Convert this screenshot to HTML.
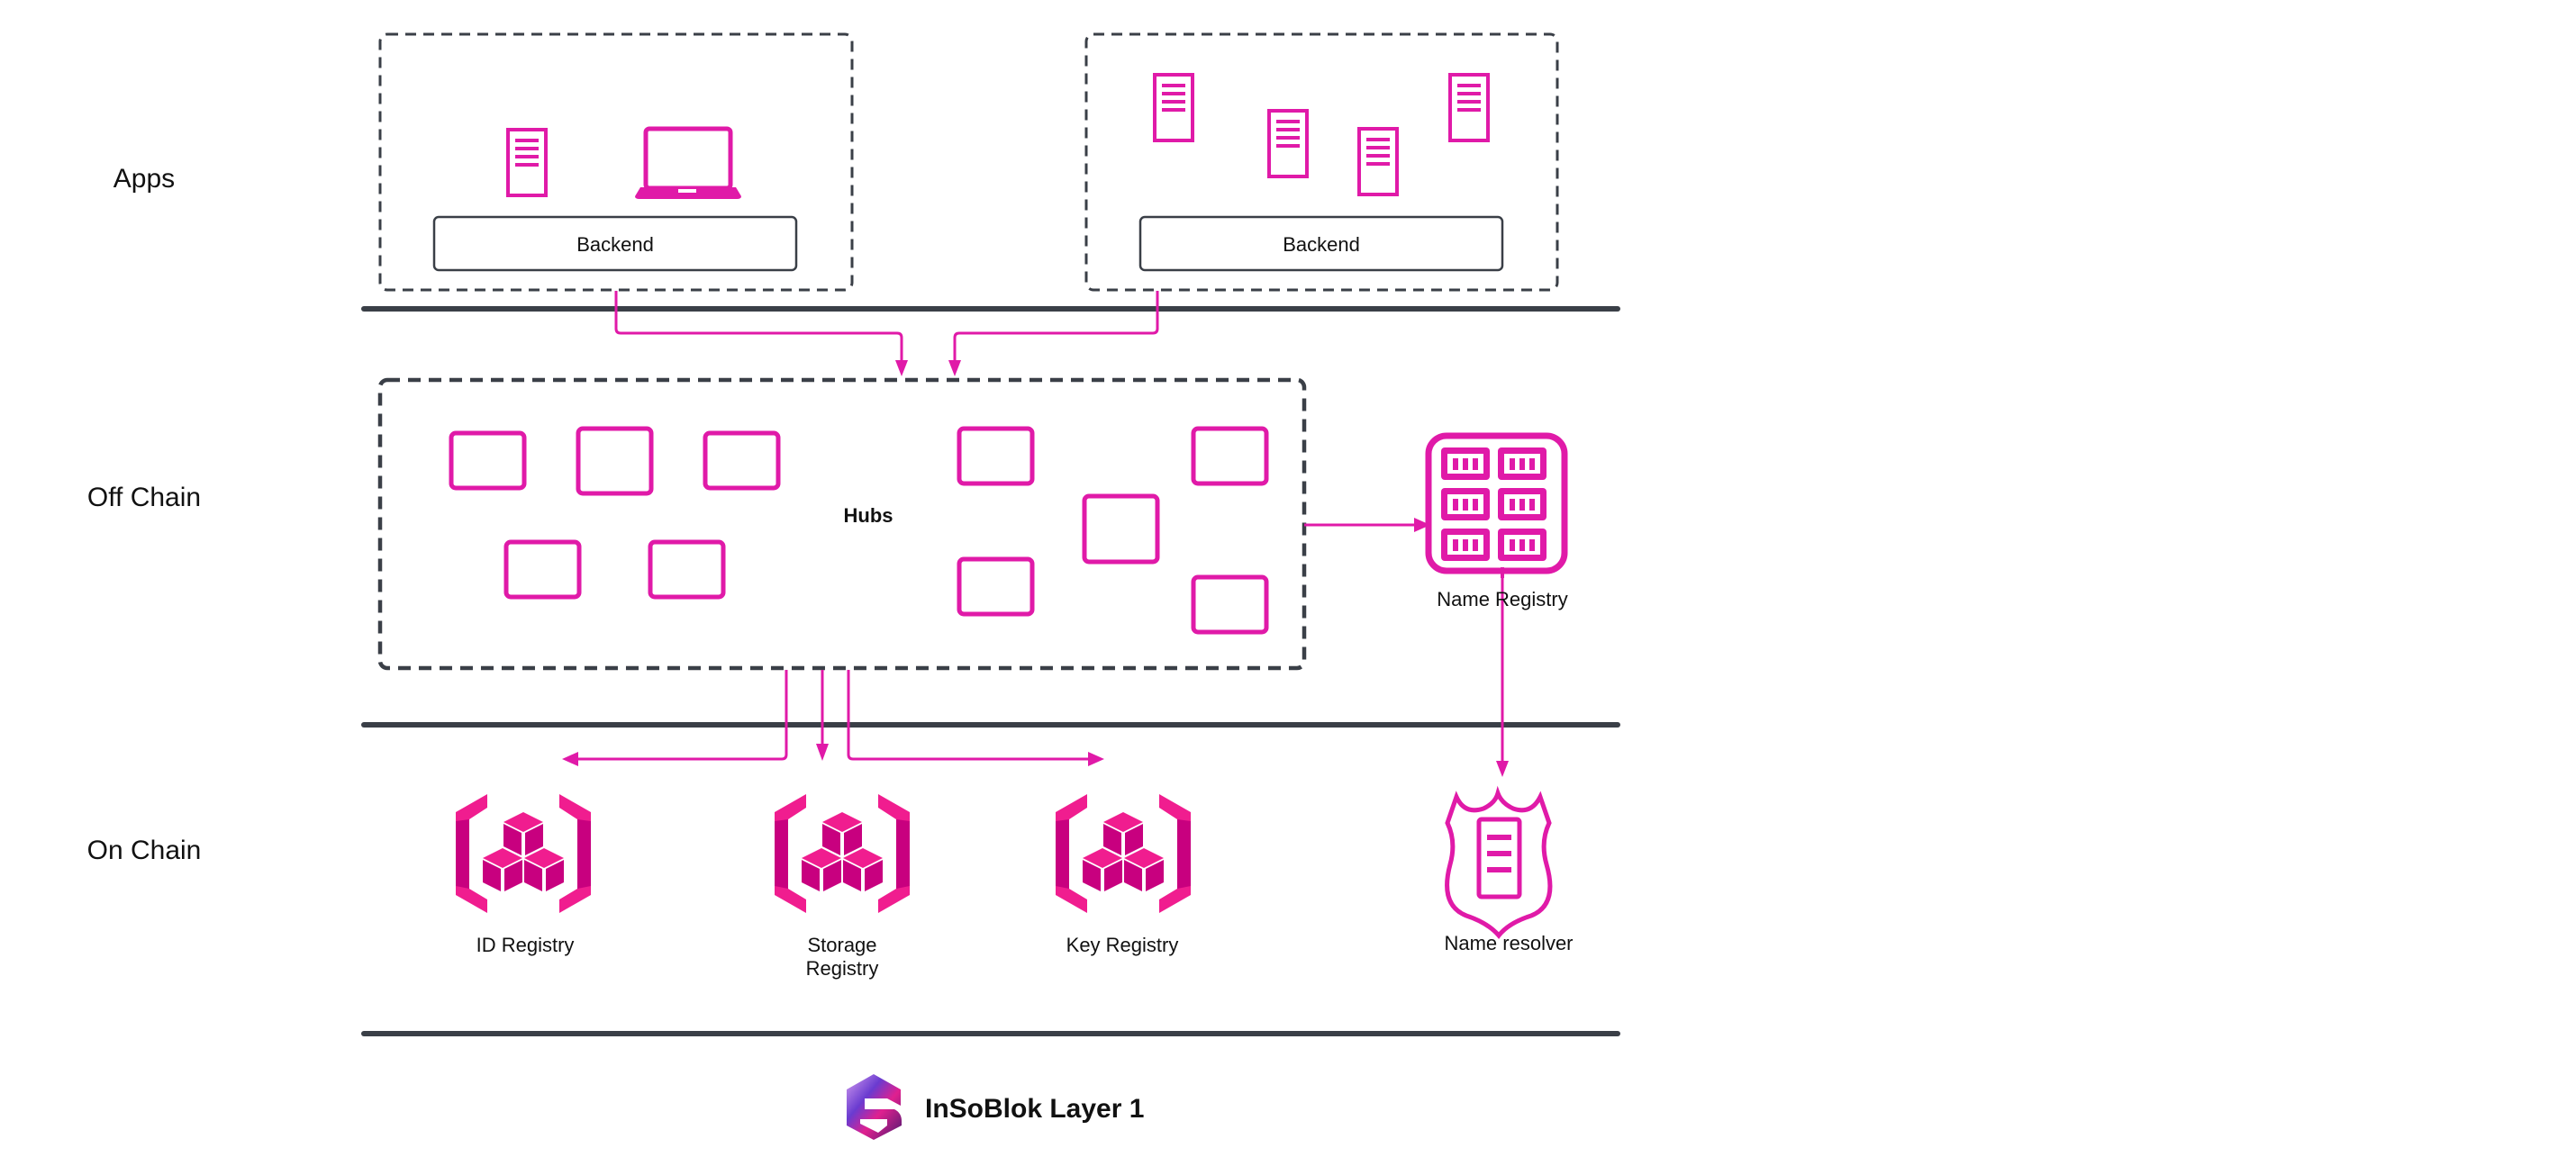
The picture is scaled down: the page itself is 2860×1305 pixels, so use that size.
<!DOCTYPE html>
<html><head><meta charset="utf-8"><style>
html,body{margin:0;padding:0;background:#fff;}
svg{display:block;}
text{font-family:"Liberation Sans",sans-serif;fill:#111;}
</style></head><body>
<svg width="2860" height="1305" viewBox="0 0 2860 1305" xmlns="http://www.w3.org/2000/svg">
<defs>
<marker id="ah" viewBox="0 0 10 10" refX="9" refY="5" markerWidth="6" markerHeight="6" orient="auto-start-reverse" markerUnits="userSpaceOnUse">
</marker>
<g id="cube">
  <polygon points="0,0 22,11 0,22 -22,11" fill="#f01d8f"/>
  <polygon points="-22,13 -2,23 -2,48 -22,38" fill="#c8007f"/>
  <polygon points="22,13 2,23 2,48 22,38" fill="#c8007f"/>
</g>
<g id="reg">
  <polygon points="0,20 35,0 35,15 15,28 15,105 35,117 35,132 0,112" fill="#f01d8f"/>
  <polygon points="0,30 15,28 15,105 0,102" fill="#c8007f"/>
  <polygon points="150,20 115,0 115,15 135,28 135,105 115,117 115,132 150,112" fill="#f01d8f"/>
  <polygon points="150,30 135,28 135,105 150,102" fill="#c8007f"/>
  <use href="#cube" x="75" y="20"/>
  <use href="#cube" x="52" y="60"/>
  <use href="#cube" x="98" y="60"/>
</g>
<g id="srv">
  <rect x="2" y="2" width="42" height="73" fill="none" stroke="#e01aa8" stroke-width="4"/>
  <rect x="10" y="12" width="26" height="4" fill="#e01aa8"/>
  <rect x="10" y="21" width="26" height="4" fill="#e01aa8"/>
  <rect x="10" y="30" width="26" height="4" fill="#e01aa8"/>
  <rect x="10" y="39" width="26" height="4" fill="#e01aa8"/>
</g>
<g id="slot">
  <rect x="0" y="0" width="54" height="36" rx="4" fill="#e01aa8"/>
  <rect x="7" y="7" width="40" height="22" fill="#fff"/>
  <rect x="13" y="12" width="6" height="13" fill="#e01aa8"/>
  <rect x="24" y="12" width="6" height="13" fill="#e01aa8"/>
  <rect x="35" y="12" width="6" height="13" fill="#e01aa8"/>
</g>
</defs>

<!-- region labels -->
<text x="160" y="208" font-size="30" text-anchor="middle">Apps</text>
<text x="160" y="562" font-size="30" text-anchor="middle">Off Chain</text>
<text x="160" y="954" font-size="30" text-anchor="middle">On Chain</text>

<!-- separators -->
<g stroke="#3a3f47" stroke-width="6" stroke-linecap="round">
<line x1="404" y1="343" x2="1796" y2="343"/>
<line x1="404" y1="805" x2="1796" y2="805"/>
<line x1="404" y1="1148" x2="1796" y2="1148"/>
</g>

<!-- app boxes -->
<g fill="none" stroke="#3a3f47" stroke-width="3" stroke-dasharray="12 8">
<rect x="422" y="38" width="524" height="284" rx="8"/>
<rect x="1206" y="38" width="523" height="284" rx="8"/>
</g>
<g fill="#fff" stroke="#3a3f47" stroke-width="2.5">
<rect x="482" y="241" width="402" height="59" rx="5"/>
<rect x="1266" y="241" width="402" height="59" rx="5"/>
</g>
<text x="683" y="279" font-size="22" text-anchor="middle">Backend</text>
<text x="1467" y="279" font-size="22" text-anchor="middle">Backend</text>

<use href="#srv" x="562" y="142"/>
<use href="#srv" x="1280" y="81"/>
<use href="#srv" x="1407" y="121"/>
<use href="#srv" x="1507" y="141"/>
<use href="#srv" x="1608" y="81"/>
<!-- laptop -->
<rect x="717" y="143" width="94" height="66" rx="4" fill="none" stroke="#e01aa8" stroke-width="5"/>
<path d="M711,208 L817,208 L823,218 Q823,221 818,221 L710,221 Q705,221 705,218 Z" fill="#e01aa8"/>
<rect x="753" y="210" width="20" height="4" fill="#fff"/>

<!-- hubs box -->
<rect x="422" y="422" width="1026" height="320" rx="8" fill="none" stroke="#3a3f47" stroke-width="4.5" stroke-dasharray="14 9"/>
<text x="964" y="580" font-size="22" font-weight="bold" text-anchor="middle">Hubs</text>
<g fill="none" stroke="#e01aa8" stroke-width="5">
<rect x="501" y="481" width="81" height="61" rx="5"/>
<rect x="642" y="476" width="81" height="72" rx="5"/>
<rect x="783" y="481" width="81" height="61" rx="5"/>
<rect x="562" y="602" width="81" height="61" rx="5"/>
<rect x="722" y="602" width="81" height="61" rx="5"/>
<rect x="1065" y="476" width="81" height="61" rx="5"/>
<rect x="1325" y="476" width="81" height="61" rx="5"/>
<rect x="1204" y="551" width="81" height="73" rx="5"/>
<rect x="1065" y="621" width="81" height="61" rx="5"/>
<rect x="1325" y="641" width="81" height="61" rx="5"/>
</g>

<!-- connectors -->
<g fill="none" stroke="#e01aa8" stroke-width="3">
<path d="M684,323 V365 Q684,370 689,370 H996 Q1001,370 1001,375 V400"/>
<path d="M1285,323 V365 Q1285,370 1280,370 H1065 Q1060,370 1060,375 V400"/>
<path d="M1448,583 H1570"/>
<path d="M1668,637 V845"/>
<path d="M873,744 V838 Q873,843 868,843 H642"/>
<path d="M913,744 V826"/>
<path d="M942,744 V838 Q942,843 947,843 H1208"/>
</g>
<g fill="#e01aa8">
<polygon points="994,400 1008,400 1001,418"/>
<polygon points="1053,400 1067,400 1060,418"/>
<polygon points="1570,575 1570,591 1588,583"/>
<polygon points="1661,845 1675,845 1668,863"/>
<polygon points="906,826 920,826 913,845"/>
<polygon points="642,835 642,851 624,843"/>
<polygon points="1208,835 1208,851 1226,843"/>
</g>

<!-- name registry -->
<rect x="1586" y="484" width="151" height="150" rx="20" fill="none" stroke="#e01aa8" stroke-width="7"/>
<use href="#slot" x="1600" y="497"/>
<use href="#slot" x="1663" y="497"/>
<use href="#slot" x="1600" y="542"/>
<use href="#slot" x="1663" y="542"/>
<use href="#slot" x="1600" y="587"/>
<use href="#slot" x="1663" y="587"/>
<rect x="1666" y="630" width="4" height="12" fill="#e01aa8"/>
<text x="1668" y="673" font-size="22" text-anchor="middle">Name Registry</text>

<!-- registries -->
<use href="#reg" x="506" y="882"/>
<use href="#reg" x="860" y="882"/>
<use href="#reg" x="1172" y="882"/>
<text x="583" y="1057" font-size="22" text-anchor="middle">ID Registry</text>
<text x="935" y="1057" font-size="22" text-anchor="middle">Storage</text>
<text x="935" y="1083" font-size="22" text-anchor="middle">Registry</text>
<text x="1246" y="1057" font-size="22" text-anchor="middle">Key Registry</text>

<!-- name resolver shield -->
<path d="M1617,885 Q1626,905 1647,898 Q1660,892 1663,881 Q1667,892 1680,898 Q1700,905 1710,885 L1720,914 Q1710,935 1717,960 Q1730,1005 1700,1017 Q1675,1025 1664,1039 Q1652,1025 1628,1017 Q1598,1005 1610,960 Q1617,935 1607,914 Z" fill="none" stroke="#e01aa8" stroke-width="5"/>
<rect x="1642" y="910" width="45" height="86" rx="3" fill="none" stroke="#e01aa8" stroke-width="5"/>
<rect x="1651" y="927" width="27" height="6" fill="#e01aa8"/>
<rect x="1651" y="945" width="27" height="6" fill="#e01aa8"/>
<rect x="1651" y="963" width="27" height="6" fill="#e01aa8"/>
<text x="1675" y="1055" font-size="22" text-anchor="middle">Name resolver</text>

<!-- logo -->
<defs><linearGradient id="lg" x1="0" y1="0" x2="1" y2="1">
<stop offset="0" stop-color="#d6a0f0"/><stop offset="0.35" stop-color="#6a3bd0"/><stop offset="0.6" stop-color="#e0208f"/><stop offset="1" stop-color="#4a1a70"/></linearGradient></defs>
<path d="M970,1193 L1000,1210 L1000,1228 L985,1220 L960,1220 L960,1232 L993,1232 Q1001,1236 1001,1245 L1001,1250 L970,1266 L940,1250 L940,1210 Z M955,1225 L955,1248 L975,1258 L985,1250 L985,1243 L955,1243 Z" fill="url(#lg)" fill-rule="evenodd"/>
<text x="1027" y="1241" font-size="30" font-weight="bold">InSoBlok Layer 1</text>
</svg>
</body></html>
